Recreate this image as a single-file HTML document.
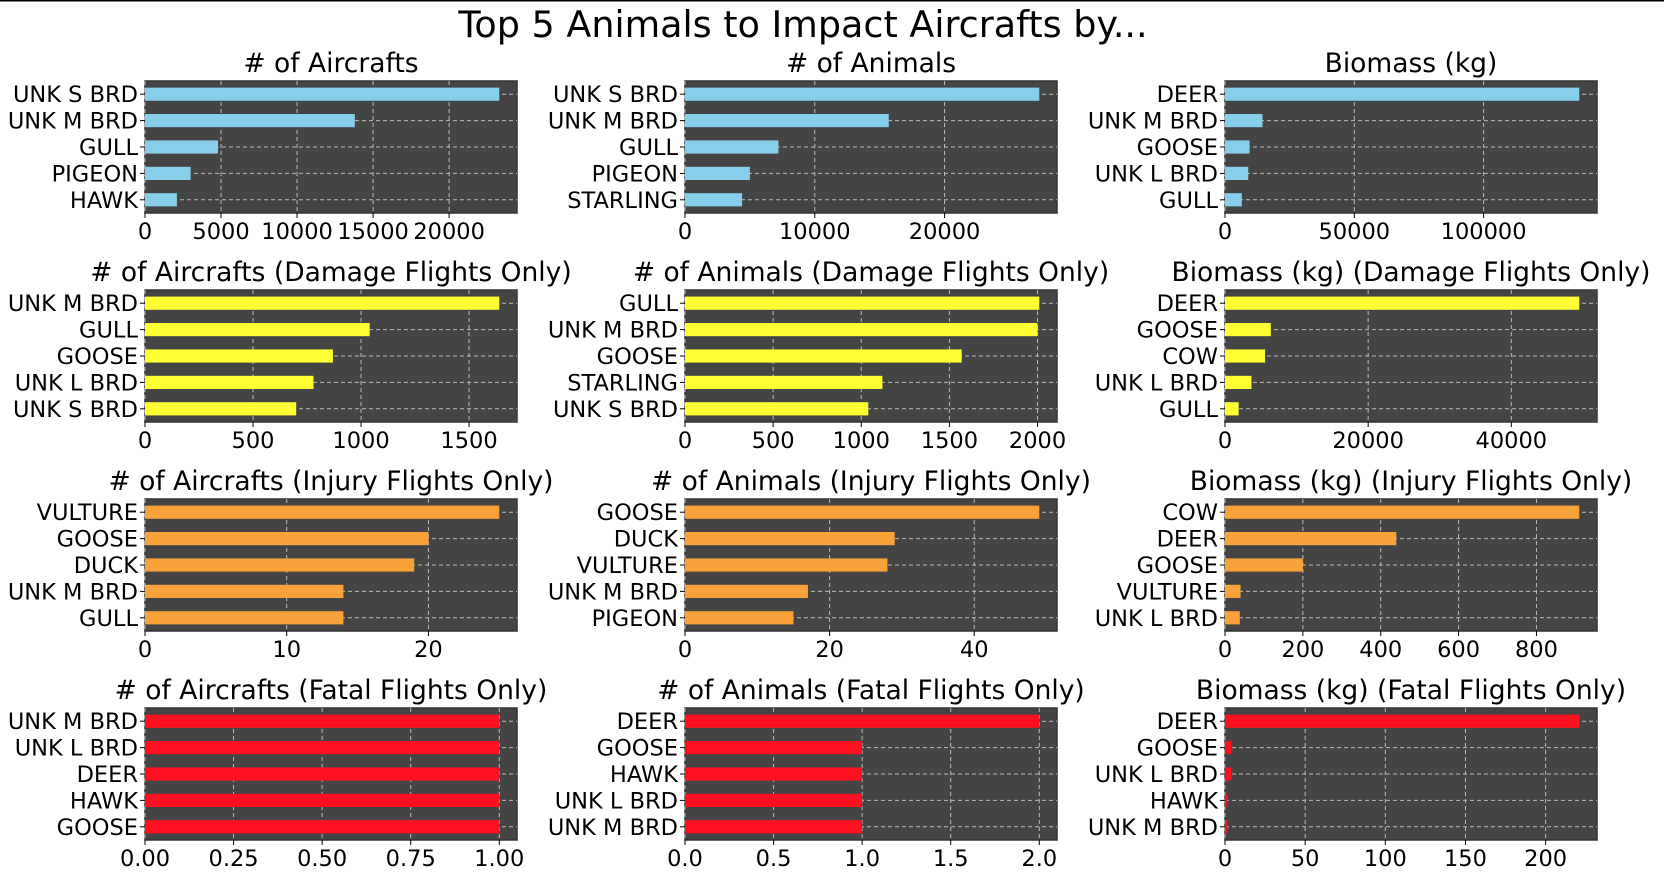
<!DOCTYPE html>
<html><head><meta charset="utf-8"><style>
html,body{margin:0;padding:0;background:#fff;}
svg{display:block;font-family:"DejaVu Sans","Liberation Sans",sans-serif;}
</style></head><body>
<svg id="fig" width="1664" height="874">
<line x1="0" y1="0.5" x2="1664" y2="0.5" stroke="#000" stroke-width="2"/>
<text x="803" y="37" font-size="36.5" text-anchor="middle" fill="#000">Top 5 Animals to Impact Aircrafts by...</text>
</svg>
<script>
const titles=[["# of Aircrafts","# of Animals","Biomass (kg)"],
["# of Aircrafts (Damage Flights Only)","# of Animals (Damage Flights Only)","Biomass (kg) (Damage Flights Only)"],
["# of Aircrafts (Injury Flights Only)","# of Animals (Injury Flights Only)","Biomass (kg) (Injury Flights Only)"],
["# of Aircrafts (Fatal Flights Only)","# of Animals (Fatal Flights Only)","Biomass (kg) (Fatal Flights Only)"]];
const categories=[
[["UNK S BRD","UNK M BRD","GULL","PIGEON","HAWK"],["UNK S BRD","UNK M BRD","GULL","PIGEON","STARLING"],["DEER","UNK M BRD","GOOSE","UNK L BRD","GULL"]],
[["UNK M BRD","GULL","GOOSE","UNK L BRD","UNK S BRD"],["GULL","UNK M BRD","GOOSE","STARLING","UNK S BRD"],["DEER","GOOSE","COW","UNK L BRD","GULL"]],
[["VULTURE","GOOSE","DUCK","UNK M BRD","GULL"],["GOOSE","DUCK","VULTURE","UNK M BRD","PIGEON"],["COW","DEER","GOOSE","VULTURE","UNK L BRD"]],
[["UNK M BRD","UNK L BRD","DEER","HAWK","GOOSE"],["DEER","GOOSE","HAWK","UNK L BRD","UNK M BRD"],["DEER","GOOSE","UNK L BRD","HAWK","UNK M BRD"]]];
const values=[
[[23300,13800,4800,3000,2100],[27300,15700,7200,5000,4400],[137000,14500,9500,9000,6500]],
[[1640,1040,870,780,700],[2010,2000,1570,1120,1040],[49500,6400,5600,3700,1900]],
[[25,20,19,14,14],[49,29,28,17,15],[910,440,200,40,38]],
[[1,1,1,1,1],[2,1,1,1,1],[221,4,4,1.5,1.5]]];
const ticks=[
[[0,5000,10000,15000,20000],[0,10000,20000],[0,50000,100000]],
[[0,500,1000,1500],[0,500,1000,1500,2000],[0,20000,40000]],
[[0,10,20],[0,20,40],[0,200,400,600,800]],
[[0,0.25,0.5,0.75,1],[0,0.5,1,1.5,2],[0,50,100,150,200]]];
const tickLabels=[
[["0","5000","10000","15000","20000"],["0","10000","20000"],["0","50000","100000"]],
[["0","500","1000","1500"],["0","500","1000","1500","2000"],["0","20000","40000"]],
[["0","10","20"],["0","20","40"],["0","200","400","600","800"]],
[["0.00","0.25","0.50","0.75","1.00"],["0.0","0.5","1.0","1.5","2.0"],["0","50","100","150","200"]]];
const colors=["#87ceeb","#ffff33","#f9a23a","#ff1020"];
const NS="http://www.w3.org/2000/svg";
const svg=document.getElementById("fig");
function mk(tag,attrs,parent){const e=document.createElementNS(NS,tag);for(const k in attrs)e.setAttribute(k,attrs[k]);(parent||svg).appendChild(e);return e;}
const AX=[145,685,1225],AY=[81,290,499,708],AW=372,AH=132;
for(let r=0;r<4;r++)for(let c=0;c<3;c++){
  const x0=AX[c],y0=AY[r];
  const vals=values[r][c],cats=categories[r][c];
  const xmax=Math.max(...vals)*1.05;
  const sx=v=>x0+v/xmax*AW;
  const slot=AH/cats.length;
  const sy=i=>y0+slot*(i+0.5);
  const g=mk("g",{});
  
  
  const bg=mk("rect",{x:x0,y:y0,width:AW,height:AH,fill:"#444444",stroke:"#333",'stroke-width':1.5},g);
  
  
  const t=mk("text",{x:x0+AW/2,y:y0-9,'font-size':26.5,'text-anchor':'middle',fill:'#000'},g);
  t.textContent=titles[r][c];
  
  
  ticks[r][c].forEach((tv,i)=>{
    const x=sx(tv);
    const gl=mk("line",{x1:x,y1:y0,x2:x,y2:y0+AH,stroke:"#bbbbbb",'stroke-width':1,'stroke-dasharray':'4,3'},g);
    
    
    mk("line",{x1:x,y1:y0+AH,x2:x,y2:y0+AH+5,stroke:'#000'},g);
    const tl=mk("text",{x:x,y:y0+AH+26,'font-size':22.5,'text-anchor':'middle',fill:'#000'},g);
    tl.textContent=tickLabels[r][c][i];
    
    
  });
  cats.forEach((cat,i)=>{
    const y=sy(i);
    const gl=mk("line",{x1:x0,y1:y,x2:x0+AW,y2:y,stroke:"#bbbbbb",'stroke-width':1,'stroke-dasharray':'4,3'},g);
    
    
  });
  cats.forEach((cat,i)=>{
    const y=sy(i);
    const b=mk("rect",{x:x0,y:y-slot*0.25,width:Math.max(0,sx(vals[i])-x0),height:slot*0.5,fill:colors[r]},g);
    
    
    mk("line",{x1:x0-5,y1:y,x2:x0,y2:y,stroke:'#000'},g);
    const l=mk("text",{x:x0-7,y:y+8,'font-size':22.5,'text-anchor':'end',fill:'#000'},g);
    l.textContent=cat;
    
    
  });
}
</script>
</body></html>
